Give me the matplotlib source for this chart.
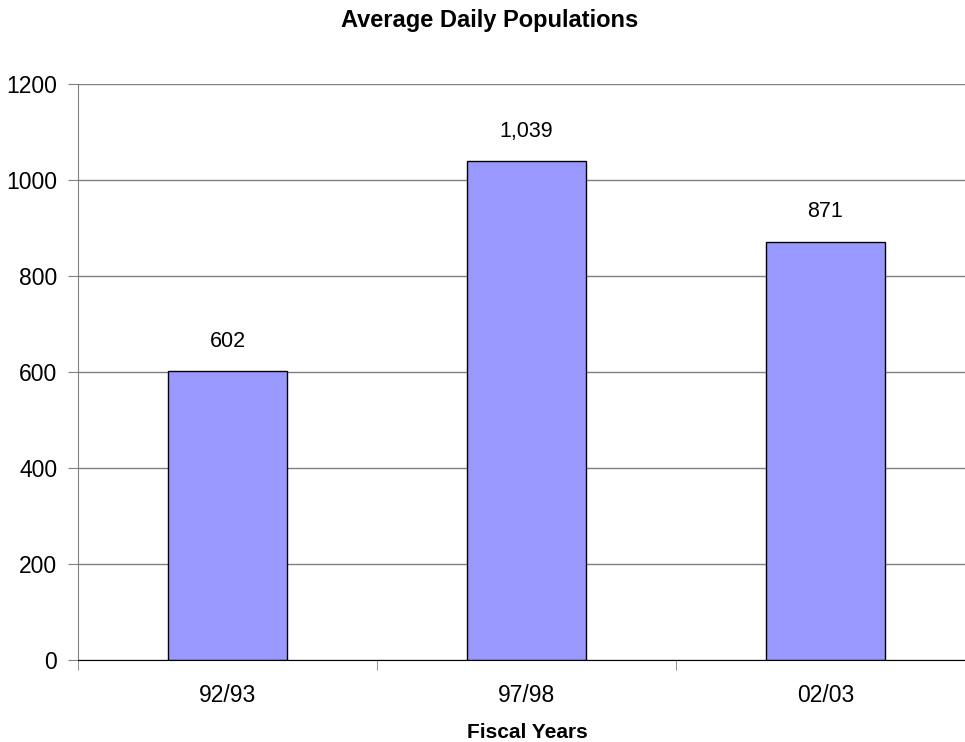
import numpy as np
import matplotlib
matplotlib.use("Agg")
import matplotlib.pyplot as plt
from matplotlib.ticker import FixedLocator

plt.rcParams['font.family'] = ['Liberation Sans', 'DejaVu Sans']

# data
years = ['92/93', '97/98', '02/03']
populations = [602, 1039, 871]
y_ticks = [0, 200, 400, 600, 800, 1000, 1200]

fig = plt.figure(figsize=(9.65, 7.42), dpi=100)
# plot area runs a little past the right edge of the picture, like the original
ax = fig.add_axes([78/965, 82/742, 897/965, 576/742])

x = np.arange(len(years))
bars = ax.bar(x, populations, width=0.4, color='#9999FF', edgecolor='black',
              linewidth=1.0, zorder=3)

for b, v in zip(bars, populations):
    ax.annotate(f"{v:,}", (b.get_x() + b.get_width()/2, v),
                xytext=(0, 14), textcoords='offset points',
                ha='center', va='bottom', fontsize=15.5)

ax.set_xlim(-0.5, len(years) - 0.5)
ax.set_ylim(0, 1200)
ax.set_yticks(y_ticks)
ax.set_yticklabels([str(t) for t in y_ticks], fontsize=16.5)
ax.yaxis.grid(True, color='#808080', linewidth=1.0, zorder=0)

# category labels centred, tick marks on category boundaries
ax.set_xticks(x)
ax.set_xticklabels(years, fontsize=16.5)
ax.tick_params(axis='x', which='major', length=0, pad=17)
ax.xaxis.set_minor_locator(FixedLocator(np.arange(len(years)) - 0.5))
ax.tick_params(axis='x', which='minor', length=7, color='#808080', direction='out')
ax.tick_params(axis='y', length=7, color='#808080', direction='out', pad=8)

for side in ['top', 'right']:
    ax.spines[side].set_visible(False)
ax.spines['left'].set_color('#808080')
ax.spines['bottom'].set_color('black')
ax.spines['bottom'].set_zorder(4)

fig.text(490/965, 1 - 21/742, 'Average Daily Populations', ha='center', va='center',
         fontsize=17, fontweight='bold')
fig.text(527/965, 1 - 732/742, 'Fiscal Years', ha='center', va='center',
         fontsize=15, fontweight='bold')

plt.savefig('out.png', dpi=100)
